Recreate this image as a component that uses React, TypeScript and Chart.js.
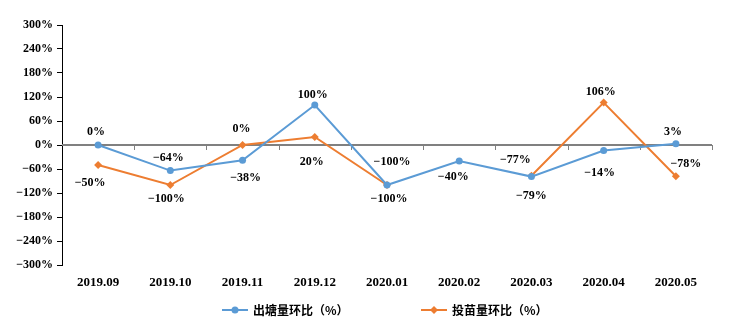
import React, { useEffect, useRef } from "react";
import { Chart, registerables } from "chart.js";

Chart.register(...registerables);

const categories = ["2019.09", "2019.10", "2019.11", "2019.12", "2020.01", "2020.02", "2020.03", "2020.04", "2020.05"];
const outputSeries = [0, -64, -38, 100, -100, -40, -79, -14, 3];
const stockingSeries: (number | null)[] = [-50, -100, 0, 20, -100, null, -77, 106, -78];
const seriesNames = ["出塘量环比（%）", "投苗量环比（%）"];
const yTickMin = -300;
const yTickMax = 300;
const yTickStep = 60;

// label offsets (styling only): [dx, dy] per point
const outputLabelOffsets = [[-2, -13], [-2, -13], [3, 18], [-2, -10], [2, 14], [-6, 16], [0, 19], [-4, 22], [-3, -12]];
const stockingLabelOffsets = [[-8, 18], [-4, 14], [-1, -16], [-3, 25], [5, -23], [0, 0], [-16, -16], [-3, -11], [10, -12]];

const BLUE = "#5B9BD5";
const ORANGE = "#ED7D31";
const FONT = "'Liberation Serif', 'Times New Roman', serif";

const fmt = (v: number) => (v < 0 ? "\u2212" : "") + Math.abs(v) + "%";

const customPlugin = {
  id: "custom",
  beforeDatasetsDraw(chart: any) {
    const { ctx, chartArea, scales } = chart;
    const y0 = scales.y.getPixelForValue(0);
    ctx.save();
    ctx.strokeStyle = "#808080";
    ctx.lineWidth = 2;
    ctx.beginPath();
    ctx.moveTo(chartArea.left, y0);
    ctx.lineTo(chartArea.right, y0);
    ctx.stroke();
    const n = categories.length;
    const w = (chartArea.right - chartArea.left) / n;
    ctx.lineWidth = 1;
    for (let k = 1; k <= n; k++) {
      const x = Math.round(chartArea.left + k * w) + 0.5;
      ctx.beginPath();
      ctx.moveTo(x, y0);
      ctx.lineTo(x, y0 + 5);
      ctx.stroke();
    }
    ctx.restore();
  },
  afterDatasetsDraw(chart: any) {
    const { ctx } = chart;
    ctx.save();
    ctx.font = "bold 12px " + FONT;
    ctx.fillStyle = "#000";
    ctx.textAlign = "center";
    ctx.textBaseline = "middle";
    const sets = [
      { data: outputSeries, offs: outputLabelOffsets },
      { data: stockingSeries, offs: stockingLabelOffsets },
    ];
    sets.forEach((s, di) => {
      const meta = chart.getDatasetMeta(di);
      s.data.forEach((v, i) => {
        if (v === null || v === undefined) return;
        const el = meta.data[i];
        ctx.fillText(fmt(v as number), el.x + s.offs[i][0], el.y + s.offs[i][1]);
      });
    });
    ctx.restore();
  },
  afterDraw(chart: any) {
    const { ctx } = chart;
    const y = 310;
    const items = [
      { x: 222, color: BLUE, name: seriesNames[0], style: "circle" },
      { x: 421, color: ORANGE, name: seriesNames[1], style: "diamond" },
    ];
    ctx.save();
    items.forEach((it) => {
      ctx.strokeStyle = it.color;
      ctx.fillStyle = it.color;
      ctx.lineWidth = 2;
      ctx.beginPath();
      ctx.moveTo(it.x, y);
      ctx.lineTo(it.x + 26, y);
      ctx.stroke();
      const cx = it.x + 13;
      ctx.beginPath();
      if (it.style === "circle") {
        ctx.arc(cx, y, 3.5, 0, Math.PI * 2);
      } else {
        ctx.moveTo(cx, y - 4);
        ctx.lineTo(cx + 4, y);
        ctx.lineTo(cx, y + 4);
        ctx.lineTo(cx - 4, y);
        ctx.closePath();
      }
      ctx.fill();
      ctx.fillStyle = "#000";
      ctx.font = "bold 12px 'Noto Sans CJK SC', sans-serif";
      ctx.textAlign = "left";
      ctx.textBaseline = "middle";
      ctx.fillText(it.name, it.x + 31, y);
    });
    ctx.restore();
  },
};

export default function App() {
  const ref = useRef<HTMLCanvasElement>(null);
  useEffect(() => {
    if (!ref.current) return;
    const chart = new Chart(ref.current, {
      type: "line",
      data: {
        labels: categories,
        datasets: [
          {
            label: seriesNames[0],
            data: outputSeries,
            borderColor: BLUE,
            backgroundColor: BLUE,
            borderWidth: 2,
            pointStyle: "circle",
            pointRadius: 3.5,
            pointBorderWidth: 0,
            tension: 0,
          },
          {
            label: seriesNames[1],
            data: stockingSeries,
            borderColor: ORANGE,
            backgroundColor: ORANGE,
            borderWidth: 2,
            pointStyle: "rectRot",
            pointRadius: 4,
            pointBorderWidth: 0,
            spanGaps: false,
            tension: 0,
          },
        ],
      },
      options: {
        responsive: false,
        animation: false,
        layout: { padding: { top: 25, right: 39, left: 0, bottom: 0 } },
        plugins: { legend: { display: false }, tooltip: { enabled: false } },
        scales: {
          x: {
            offset: true,
            grid: { display: false },
            border: { display: false },
            ticks: { color: "#000", font: { family: FONT, size: 13, weight: "bold" }, padding: 2, maxRotation: 0 },
            afterFit: (s: any) => { s.height = 68; },
          },
          y: {
            min: yTickMin,
            max: yTickMax,
            grid: { drawOnChartArea: false, drawTicks: true, tickLength: 5, color: "#000" },
            border: { display: true, color: "#000", width: 1 },
            ticks: {
              stepSize: yTickStep,
              color: "#000",
              font: { family: FONT, size: 12, weight: "bold" },
              padding: 4,
              callback: (v: any) => fmt(Number(v)),
            },
            afterFit: (s: any) => { s.width = 62; },
          },
        },
      },
      plugins: [customPlugin],
    });
    return () => chart.destroy();
  }, []);
  return (
    <div style={{ position: "absolute", left: 0, top: 0, width: 751, height: 333, background: "#fff" }}>
      <canvas ref={ref} width={751} height={333} />
    </div>
  );
}
